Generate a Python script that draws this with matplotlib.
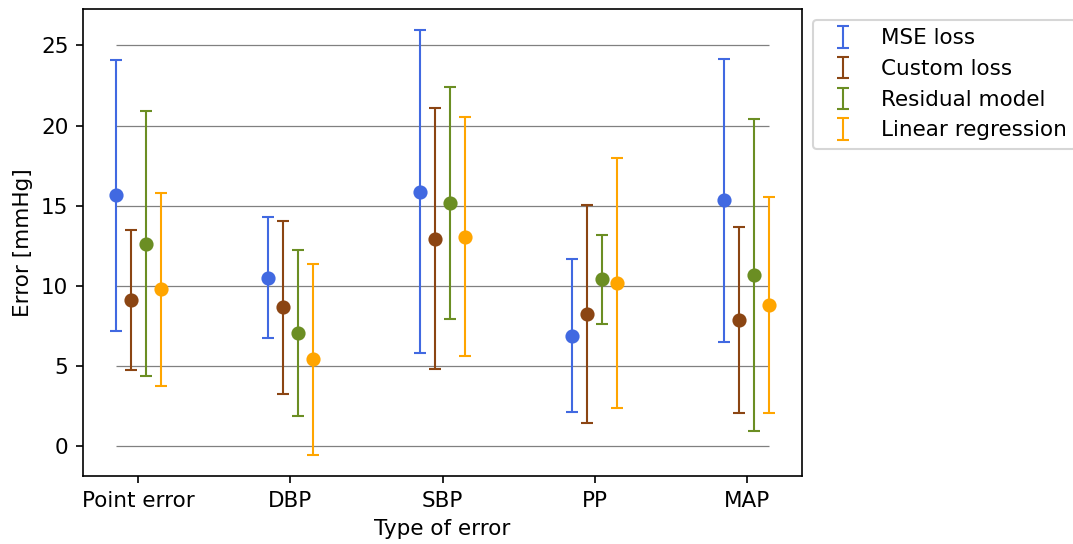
import matplotlib as mpl
mpl.use('Agg')
from matplotlib import pyplot as plt
import numpy as np

categories = ['Point error', 'DBP', 'SBP', 'PP', 'MAP']
models = ['MSE loss', 'Custom loss', 'Residual model', 'Linear regression']
colors = ['royalblue', 'saddlebrown', 'olivedrab', 'orange']

# mean error and spread (std) per model, one value per category
mse_mean = [15.64, 10.52, 15.88, 6.90, 15.35]
mse_std = [8.44, 3.76, 10.07, 4.75, 8.83]
custom_mean = [9.13, 8.65, 12.94, 8.25, 7.88]
custom_std = [4.36, 5.42, 8.14, 6.78, 5.81]
residual_mean = [12.63, 7.06, 15.17, 10.40, 10.67]
residual_std = [8.26, 5.15, 7.23, 2.80, 9.74]
linear_mean = [9.79, 5.42, 13.06, 10.17, 8.81]
linear_std = [6.02, 5.96, 7.45, 7.79, 6.76]

means = [mse_mean, custom_mean, residual_mean, linear_mean]
stds = [mse_std, custom_std, residual_std, linear_std]
offsets = [-0.15, -0.05, 0.05, 0.15]

plt.rc('font', size=10.3)
fig = plt.figure(figsize=(1073/150, 544/150), dpi=150)
ax = fig.add_axes([83/1073, 68/544, 719/1073, 467/544])

x = np.arange(len(categories))
ax.hlines(np.arange(0, 30, 5), x[0] + offsets[0], x[-1] + offsets[-1],
          color='gray', linewidth=0.6, zorder=0)

for m, s, off, c, lab in zip(means, stds, offsets, colors, models):
    ax.errorbar(x + off, m, yerr=s, fmt='none', ecolor=c, capsize=3,
                elinewidth=1, capthick=1, label=lab)
    ax.plot(x + off, m, 'o', color=c, markersize=5.8)

ax.set_xticks(x)
ax.set_xticklabels(categories)
ax.set_xlabel('Type of error')
ax.set_ylabel('Error [mmHg]')
ax.legend(bbox_to_anchor=(1, 1), loc='upper left')

plt.savefig('out.png', dpi=150)
